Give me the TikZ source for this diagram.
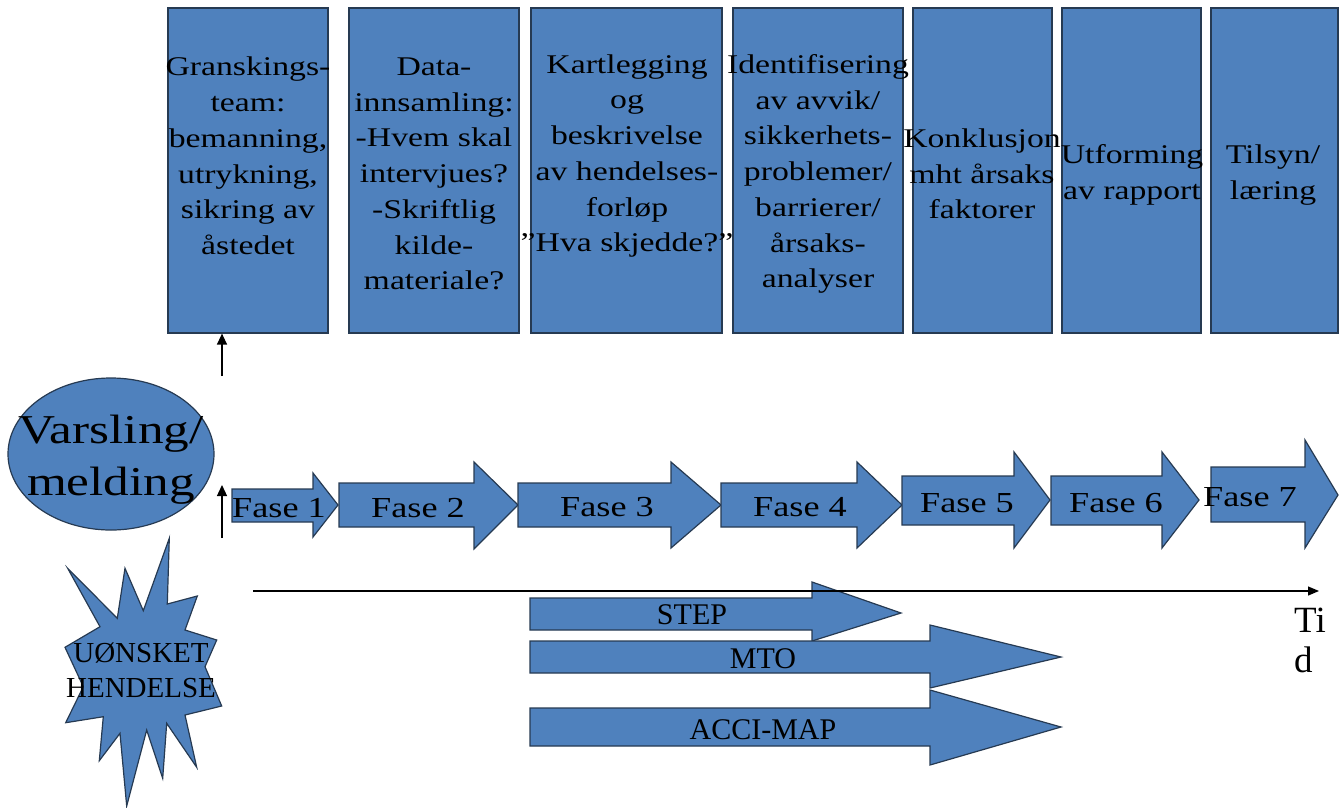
\documentclass[tikz,border=0pt]{standalone}
\usepackage{fontspec}
\setmainfont[FakeStretch=1.25]{Liberation Serif}
\newfontfamily\plainserif{Liberation Serif}
\usetikzlibrary{arrows.meta,shapes.geometric}
\definecolor{fillblue}{HTML}{4F81BD}
\definecolor{edgecol}{HTML}{263A52}
\newcommand\blkarrow[8]{%
  \draw[blockarrow] (#1,#2) -- (#4,#2) -- (#4,#5) -- (#7,#8) -- (#4,#6) -- (#4,#3) -- (#1,#3) -- cycle;}
\begin{document}
\begin{tikzpicture}[x=1pt,y=-1pt,
  box/.style={draw=edgecol, fill=fillblue, line width=1.2pt, inner sep=0pt},
  blockarrow/.style={draw=edgecol, fill=fillblue, line width=1.2pt, line join=miter},
  boxtext/.style={align=center, inner sep=0pt, font=\fontsize{27}{35.7}\selectfont},
  faselabel/.style={inner sep=0pt, font=\fontsize{29}{32}\selectfont},
  methodlabel/.style={inner sep=0pt, font=\plainserif\fontsize{30}{34}\selectfont},
  thinarrow/.style={line width=1.3pt, -{Triangle[length=11pt,width=10pt]}}]
\useasboundingbox (0,0) rectangle (1339,807);

% top boxes
\node[box, minimum width=160pt, minimum height=325pt] (b1) at (248,170.5) {};
\node[box, minimum width=170pt, minimum height=325pt] (b2) at (434,170.5) {};
\node[box, minimum width=191pt, minimum height=325pt] (b3) at (626.5,170.5) {};
\node[box, minimum width=170pt, minimum height=325pt] (b4) at (818,170.5) {};
\node[box, minimum width=139pt, minimum height=325pt] (b5) at (982.5,170.5) {};
\node[box, minimum width=139pt, minimum height=325pt] (b6) at (1131.5,170.5) {};
\node[box, minimum width=127pt, minimum height=325pt] (b7) at (1274.5,170.5) {};

\node[boxtext] (t1) at (248,156) {Granskings-\\team:\\bemanning,\\utrykning,\\sikring av\\åstedet};
\node[boxtext] (t2) at (434,174) {Data-\\innsamling:\\-Hvem skal\\intervjues?\\-Skriftlig\\kilde-\\materiale?};
\node[boxtext] (t3) at (627,156) {Kartlegging\\og\\beskrivelse\\av hendelses-\\forløp\\”Hva skjedde?”};
\node[boxtext] (t4) at (818,174) {Identifisering\\av avvik/\\sikkerhets-\\problemer/\\barrierer/\\årsaks-\\analyser};
\node[boxtext] (t5) at (982,174) {Konklusjon\\mht årsaks\\faktorer};
\node[boxtext] (t6) at (1132,175) {Utforming\\av rapport};
\node[boxtext] (t7) at (1273,175) {Tilsyn/\\læring};

% ellipse
\node[ellipse, draw=edgecol, fill=fillblue, line width=1.2pt, minimum width=206pt, minimum height=152pt, inner sep=0pt] (el) at (111,454) {};
\node[align=center, inner sep=0pt, font=\fontsize{41}{52}\selectfont] (varsling) at (111,460) {Varsling/\\melding};

% small arrows
\coordinate (a1) at (222,376);
\coordinate (a2) at (222,538);
\coordinate (a3) at (222,485);
\draw[thinarrow] (a1) -- (a1 |- b1.south);
\draw[thinarrow] (a2) -- (a3);

% phase arrows
\blkarrow{232}{489}{522}{313}{473}{537}{338}{505}
\blkarrow{339}{483}{527}{474}{462}{549}{518}{505}
\blkarrow{518}{483}{527}{671}{462}{548}{721}{505}
\blkarrow{721}{483}{527}{857}{462}{548}{902}{505}
\blkarrow{902}{476}{525}{1014}{452}{548}{1050}{500}
\blkarrow{1051}{476}{525}{1162}{452}{548}{1199}{500}
\blkarrow{1211}{467}{522}{1305}{440}{548}{1338}{495}

\node[faselabel] (f1) at (279,508) {Fase 1};
\node[faselabel] (f2) at (418,508) {Fase 2};
\node[faselabel] (f3) at (607,507) {Fase 3};
\node[faselabel] (f4) at (800,507) {Fase 4};
\node[faselabel] (f5) at (967,503) {Fase 5};
\node[faselabel] (f6) at (1116,503) {Fase 6};
\node[faselabel] (f7) at (1250,497) {Fase 7};

% method arrows
\blkarrow{530}{598}{630}{812}{582}{641}{901}{613}
\blkarrow{530}{641}{673}{930}{625}{688}{1061}{657}
\blkarrow{530}{708}{746}{930}{690}{765}{1061}{727}
\node[methodlabel] (step) at (692,615) {STEP};
\node[methodlabel] (mto) at (763,659) {MTO};
\node[methodlabel] (acci) at (763,730) {ACCI-MAP};

% time axis
\coordinate (ax1) at (253,591);
\coordinate (ax2) at (1319,591);
\draw[line width=1.3pt, -{Triangle[length=11pt,width=9pt]}] (ax1) -- (ax2);
\node[align=left, anchor=west, inner sep=0pt, font=\plainserif\fontsize{37}{40}\selectfont] (tid) at (1294,640) {Ti\\d};

% starburst
\draw[blockarrow] (169.3,538.3) -- (167.3,604) -- (197.3,596) -- (185,630) -- (216.7,640) -- (205,666.7) -- (221.7,706) -- (185,715) -- (196.7,767.3) -- (166.7,723.3) -- (162.7,778.3) -- (146.7,730) -- (126.7,806) -- (120,733.3) -- (99.3,760.7) -- (103.3,716.7) -- (65.7,722.7) -- (83.3,686.7) -- (65,647.3) -- (100,626.7) -- (67.7,568.3) -- (117.3,618.3) -- (125,568.3) -- (143.3,610.7) -- cycle;
\node[align=center, inner sep=0pt, font=\plainserif\fontsize{29}{35}\selectfont] (uonsket) at (141,670) {UØNSKET\\HENDELSE};
\end{tikzpicture}
\end{document}
